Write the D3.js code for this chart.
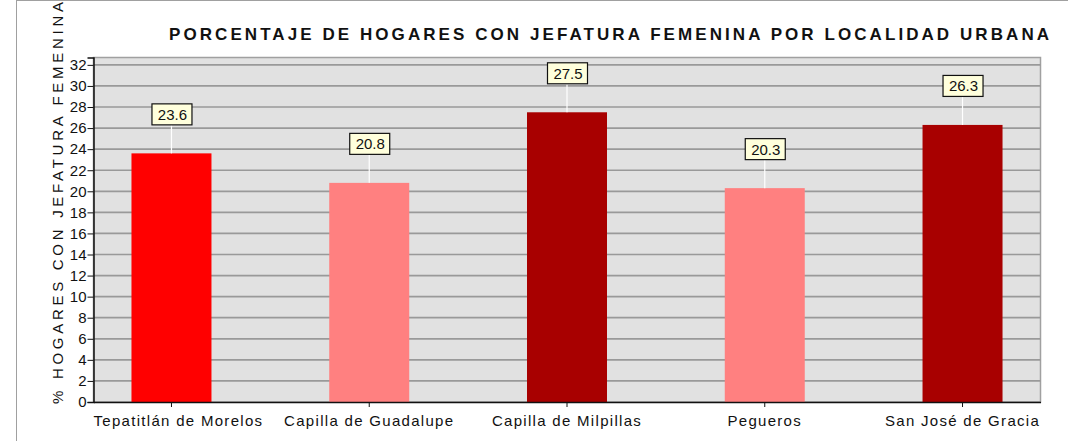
<!DOCTYPE html>
<html>
<head>
<meta charset="utf-8">
<script src="https://cdn.jsdelivr.net/npm/d3@7"></script>
<style>
  html, body { margin: 0; padding: 0; background: #fff; }
  svg { display: block; }
  text { font-family: "Liberation Sans", Arial, sans-serif; fill: #111; }
</style>
</head>
<body>
<svg id="chart" width="1068" height="441"></svg>
<script>
const categories = ["Tepatitlán de Morelos", "Capilla de Guadalupe", "Capilla de Milpillas", "Pegueros", "San José de Gracia"];
const values = [23.6, 20.8, 27.5, 20.3, 26.3];
const valueLabels = ["23.6", "20.8", "27.5", "20.3", "26.3"];
const barColors = ["#ff0000", "#ff8080", "#a80000", "#ff8080", "#a80000"];
const yTicks = [0, 2, 4, 6, 8, 10, 12, 14, 16, 18, 20, 22, 24, 26, 28, 30, 32];
const title = "PORCENTAJE DE HOGARES CON JEFATURA FEMENINA POR LOCALIDAD URBANA";
const yTitle = "% HOGARES CON JEFATURA FEMENINA";

const svg = d3.select("#chart");
const W = 1068, H = 441;
const plot = { left: 93.5, right: 1040.5, top: 57.5, bottom: 402 };

// outer frame
svg.append("rect").attr("x", 16.5).attr("y", 0.5).attr("width", W + 10).attr("height", H + 10)
  .attr("fill", "#fff").attr("stroke", "#a0a0a0").attr("stroke-width", 1);

const x = d3.scaleBand().domain(categories).range([plot.left, plot.right])
  .paddingInner(0.5955).paddingOuter(0.192);
const y = d3.scaleLinear().domain([0, 32.7]).range([plot.bottom, plot.top]);

// plot background
svg.append("rect").attr("x", plot.left).attr("y", plot.top)
  .attr("width", plot.right - plot.left).attr("height", plot.bottom - plot.top)
  .attr("fill", "#e1e1e1").attr("stroke", "#a0a0a0").attr("stroke-width", 1.5);

// gridlines
svg.append("g").selectAll("line").data(yTicks.filter(d => d > 0)).join("line")
  .attr("x1", plot.left).attr("x2", plot.right)
  .attr("y1", d => y(d)).attr("y2", d => y(d))
  .attr("stroke", "#999").attr("stroke-width", 1.7);

// bars
svg.append("g").selectAll("rect").data(values).join("rect")
  .attr("x", (d, i) => x(categories[i]))
  .attr("width", x.bandwidth())
  .attr("y", d => y(d))
  .attr("height", d => plot.bottom - y(d))
  .attr("fill", (d, i) => barColors[i]);

// y axis
const yAxis = d3.axisLeft(y).tickValues(yTicks).tickSize(6).tickPadding(1).tickFormat(d3.format("d"));
const gy = svg.append("g").attr("transform", `translate(${plot.left},0)`).call(yAxis);
gy.select(".domain").attr("stroke", "#111").attr("stroke-width", 1.5);
gy.selectAll(".tick line").attr("stroke", "#111");
gy.selectAll(".tick text").attr("font-size", 15).attr("fill", "#111")
  .attr("font-family", "Liberation Sans, Arial, sans-serif");

// x axis
const xAxis = d3.axisBottom(x).tickSize(5).tickSizeOuter(0).tickFormat("");
const gx = svg.append("g").attr("transform", `translate(0,${plot.bottom})`).call(xAxis);
gx.select(".domain").attr("stroke", "#111").attr("stroke-width", 1.5);
gx.selectAll(".tick line").attr("stroke", "#111");

// x labels
const xl = svg.append("g").selectAll("text").data(categories).join("text")
  .attr("x", d => x(d) + x.bandwidth() / 2)
  .attr("y", 426)
  .attr("text-anchor", "middle")
  .attr("font-size", 15)
  .attr("letter-spacing", "1.3px")
  .text(d => d);
xl.each(function() {
  const bb = this.getBBox();
  if (bb.x < plot.left) {
    d3.select(this).attr("text-anchor", "start").attr("x", plot.left);
  }
});

// value labels with leader lines
const boxW = 40, boxH = 21, gap = 29;
const lg = svg.append("g");
values.forEach((v, i) => {
  const cx = x(categories[i]) + x.bandwidth() / 2;
  const top = y(v);
  const by = top - gap - boxH;
  lg.append("line").attr("x1", cx).attr("x2", cx).attr("y1", top).attr("y2", by + boxH)
    .attr("stroke", "#ffffff").attr("stroke-width", 1.2);
  lg.append("rect").attr("x", cx - boxW / 2 + 0.5).attr("y", by + 0.5)
    .attr("width", boxW).attr("height", boxH)
    .attr("fill", "#ffffdc").attr("stroke", "#111").attr("stroke-width", 1.2);
  lg.append("text").attr("x", cx + 1).attr("y", by + boxH / 2 + 6)
    .attr("text-anchor", "middle").attr("font-size", 15).text(valueLabels[i]);
});

// title
svg.append("text").attr("x", 169).attr("y", 40)
  .attr("font-size", 17).attr("font-weight", "bold")
  .attr("textLength", 880).attr("lengthAdjust", "spacing")
  .text(title);

// y title
svg.append("text").attr("transform", "translate(63,404) rotate(-90)")
  .attr("x", 0).attr("y", 0)
  .attr("font-size", 15)
  .attr("textLength", 402).attr("lengthAdjust", "spacing")
  .text(yTitle);
</script>
</body>
</html>
